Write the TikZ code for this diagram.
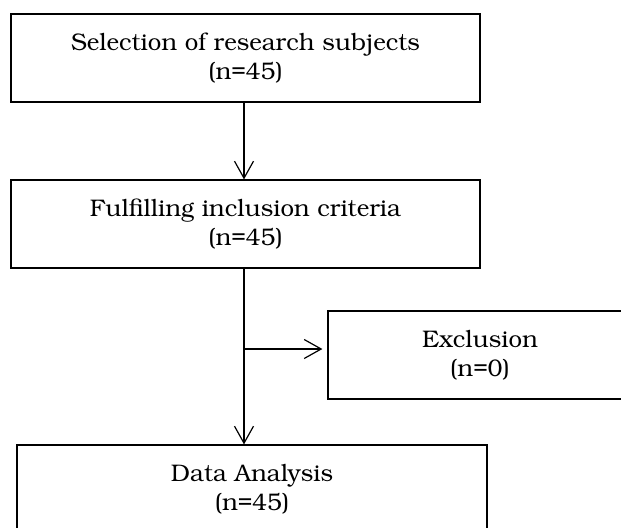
\documentclass[tikz,border=0pt]{standalone}
\usepackage[T1]{fontenc}
\usepackage{bookman}
\usepackage{tikz}
\usetikzlibrary{arrows.meta,calc}

\begin{document}
\begin{tikzpicture}[x=0.5pt,y=-0.5pt,
  box/.style={draw,line width=0.6pt,minimum height=44pt,align=center,
    font=\fontsize{12}{14.5}\selectfont,inner sep=0pt},
  arr/.style={line width=0.6pt,-{Straight Barb[length=8.5pt,width=9.5pt,line width=0.6pt]}}]
\useasboundingbox (0,0) rectangle (621,527);
\clip (0,0) rectangle (621,527);

\node[box,minimum width=234.5pt] (sel) at (245.5,58) {Selection of research subjects\\(n=45)};
\node[box,minimum width=234.5pt] (incl) at (245.5,224) {Fulfilling inclusion criteria\\(n=45)};
\node[box,minimum width=152pt] (excl) at (480,355) {Exclusion\\(n=0)};
\node[box,minimum width=235pt] (anal) at (252,489) {Data Analysis\\(n=45)};

\coordinate (top) at (244,102);
\coordinate (br) at (244,349);

\draw[arr] (top) -- (top |- incl.north);
\draw[arr] (top |- incl.south) -- (top |- anal.north);
\draw[arr,shorten >=2.5pt] (br) -- (br -| excl.west);
\end{tikzpicture}
\end{document}
